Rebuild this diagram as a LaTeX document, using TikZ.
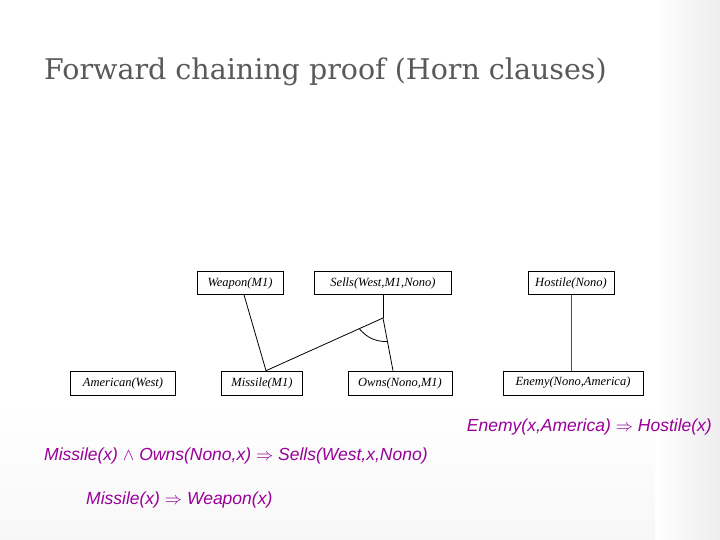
\documentclass[tikz,border=0pt]{standalone}
\usepackage{fontspec}
\setmainfont{Liberation Serif}
\newfontfamily\lsans{Liberation Sans}
\newfontfamily\dserif{DejaVu Serif}
\usetikzlibrary{calc}
\definecolor{mag}{HTML}{990099}
\definecolor{ttl}{HTML}{595959}
\begin{document}
\begin{tikzpicture}[x=1pt,y=-1pt,
  fact/.style={draw=black,line width=0.6pt,inner sep=0pt,font=\itshape\fontsize{12.5}{14}\selectfont},
  link/.style={draw=black,line width=0.8pt},
  rule/.style={anchor=west,text=mag,font=\lsans\itshape\fontsize{17.5}{20}\selectfont,inner sep=0pt}]
\useasboundingbox (0,0) rectangle (720,540);
\shade[left color=white,right color=black!7] (655,0) rectangle (720,540);
\shade[top color=white,bottom color=black!3] (0,400) rectangle (655,540);
\fill[white] (195,155) rectangle (655,400);
\node[anchor=base west,inner sep=0pt,text=ttl,font=\dserif\fontsize{28.5}{32}\selectfont] (title) at (44,80) {Forward chaining proof (Horn clauses)};
\node[fact,minimum width=86,minimum height=23] (weapon) at (240,283) {Weapon(M1)};
\node[fact,minimum width=137,minimum height=23] (sells) at (383,283) {Sells(West,M1,Nono)};
\node[fact,minimum width=86,minimum height=23] (hostile) at (571,283) {Hostile(Nono)};
\node[fact,minimum width=105,minimum height=24] (american) at (123,383) {American(West)};
\node[fact,minimum width=81,minimum height=24] (missile) at (262,383) {Missile(M1)};
\node[fact,minimum width=104,minimum height=24] (owns) at (400,383) {Owns(Nono,M1)};
\node[fact,minimum width=140,minimum height=24] (enemy) at (573,383) {Enemy(Nono,America)};
\coordinate (j) at (383,318);
\draw[link] (weapon.south)++(4,0) coordinate (w1) -- ($(missile.north)+(4,0)$) coordinate (m1);
\draw[link] (sells.south) -- (j);
\draw[link] (m1) -- (j);
\draw[link] ($(owns.north)+(-7,0)$) coordinate (o1) -- (j);
\draw[link] ($(j)!26pt!(m1)$) to[bend right=25] ($(j)!24pt!(o1)$);
\draw[link,draw=black!70] (hostile.south) -- (hostile.south |- enemy.north);
\node[rule,anchor=east] (r1) at (712,427) {Enemy(x,America) $\Rightarrow$ Hostile(x)};
\node[rule] (r2) at (44,456) {Missile(x) $\wedge$ Owns(Nono,x) $\Rightarrow$ Sells(West,x,Nono)};
\node[rule] (r3) at (86,500) {Missile(x) $\Rightarrow$ Weapon(x)};
\end{tikzpicture}
\end{document}
